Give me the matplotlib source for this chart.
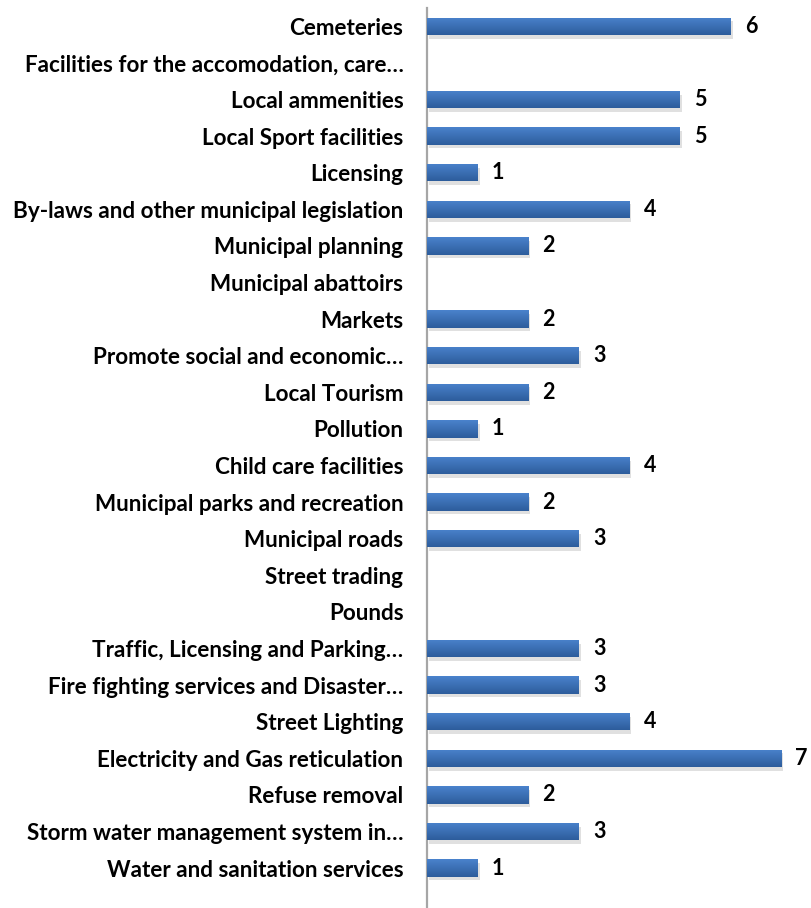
import numpy as np
import matplotlib.pyplot as plt
from matplotlib.colors import LinearSegmentedColormap

categories = [
    "Cemeteries",
    "Facilities for the accomodation, care…",
    "Local ammenities",
    "Local Sport facilities",
    "Licensing",
    "By-laws and other municipal legislation",
    "Municipal planning",
    "Municipal abattoirs",
    "Markets",
    "Promote social and economic…",
    "Local Tourism",
    "Pollution",
    "Child care facilities",
    "Municipal parks and recreation",
    "Municipal roads",
    "Street trading",
    "Pounds",
    "Traffic, Licensing and Parking…",
    "Fire fighting services and Disaster…",
    "Street Lighting",
    "Electricity and Gas reticulation",
    "Refuse removal",
    "Storm water management system in…",
    "Water and sanitation services",
]
values = [6, 0, 5, 5, 1, 4, 2, 0, 2, 3, 2, 1, 4, 2, 3, 0, 0, 3, 3, 4, 7, 2, 3, 1]

plt.rcParams['font.family'] = ['Lato', 'DejaVu Sans']

W, H = 811, 908
fig = plt.figure(figsize=(W / 100, H / 100), dpi=100)
ax = fig.add_axes([427 / W, 0, 1 - 427 / W, 900 / H])

y = np.arange(len(categories))
bar_h = 0.47
grad = LinearSegmentedColormap.from_list("g", ["#4a82cc", "#2d5d9c"])

for yi, v in zip(y, values):
    if v <= 0:
        continue
    # soft shadow
    ax.barh(yi + 0.1, v, height=bar_h, left=0.04, color="#000000", alpha=0.12,
            zorder=1, linewidth=0)
    bar = ax.barh(yi, v, height=bar_h, color="#3b70b8", zorder=2, linewidth=0)[0]
    img = ax.imshow(np.linspace(0, 1, 50).reshape(-1, 1), cmap=grad,
                    extent=(0, v, yi + bar_h / 2, yi - bar_h / 2),
                    aspect="auto", zorder=3)
    img.set_clip_path(bar)
    ax.text(v + 0.28, yi, str(v), va="center", ha="left",
            fontsize=15.5, fontweight="bold", color="black")

ax.set_xlim(0, (W - 427) / 50.6)
ax.set_ylim(-0.5 + 900 / 36.6, -0.5)
ax.set_yticks(y)
ax.set_yticklabels(categories, fontsize=16.2, fontweight="bold")
ax.tick_params(axis="y", length=0, pad=17)
ax.set_xticks([])
for s in ["top", "right", "bottom"]:
    ax.spines[s].set_visible(False)
ax.spines["left"].set_color("#a6a6a6")
ax.spines["left"].set_linewidth(1.6)

fig.savefig("out.png", dpi=100)
